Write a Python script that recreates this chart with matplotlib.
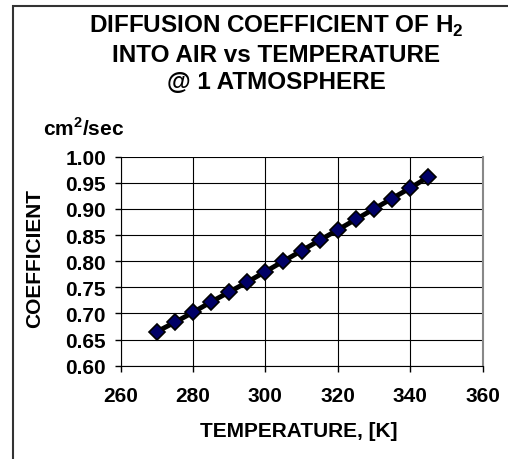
import matplotlib
matplotlib.use("Agg")
from matplotlib import pyplot as plt
from matplotlib.patches import Rectangle

# data
temperature = [270, 275, 280, 285, 290, 295, 300, 305, 310, 315, 320, 325, 330, 335, 340, 345]
coefficient = [0.665, 0.683, 0.702, 0.722, 0.741, 0.760, 0.780, 0.800,
               0.820, 0.840, 0.860, 0.880, 0.900, 0.920, 0.940, 0.961]
x_ticks = [260, 280, 300, 320, 340, 360]
y_ticks = [0.60, 0.65, 0.70, 0.75, 0.80, 0.85, 0.90, 0.95, 1.00]

plt.rcParams["font.family"] = ["Liberation Sans", "DejaVu Sans"]
plt.rcParams["font.weight"] = "bold"
plt.rcParams["mathtext.fontset"] = "custom"
plt.rcParams["mathtext.rm"] = "Liberation Sans:bold"
plt.rcParams["mathtext.bf"] = "Liberation Sans:bold"

W, H = 508, 460
fig = plt.figure(figsize=(W / 100, H / 100), dpi=100)

# outer frame (cut off at right and bottom)
fig.patches.append(Rectangle((13 / W, -0.1), 1.2, 1.1 - 7 / H, transform=fig.transFigure,
                             fill=False, edgecolor="#333333", linewidth=1.5))

left, right, top, bottom = 120.5, 482.5, 157.7, 366.7
ax = fig.add_axes([left / W, 1 - bottom / H, (right - left) / W, (bottom - top) / H])

ax.plot(temperature, coefficient, color="black", linewidth=3.5, zorder=3,
        marker="D", markersize=8, markerfacecolor="#000066", markeredgecolor="black",
        markeredgewidth=1.2)

ax.set_xlim(260, 360)
ax.set_ylim(0.60, 1.00)
ax.set_xticks(x_ticks)
ax.set_yticks(y_ticks)
ax.set_xticklabels([str(t) for t in x_ticks])
ax.set_yticklabels([f"{t:.2f}" for t in y_ticks])
ax.tick_params(axis="both", labelsize=15, direction="out", length=4.5, width=1, pad=6)
ax.tick_params(axis="x", pad=10)
ax.grid(True, color="black", linewidth=0.8)
ax.set_axisbelow(True)
ax.spines["top"].set_visible(False)
ax.spines["right"].set_color("#888888")
ax.spines["right"].set_linewidth(1.5)
for lab in ax.get_xticklabels() + ax.get_yticklabels():
    lab.set_fontweight("bold")

fig.text(276 / W, 1 - 26.5 / H, "DIFFUSION COEFFICIENT OF H$_{2}$", ha="center", va="center",
         fontsize=17.5, fontweight="bold")
fig.text(276 / W, 1 - 55 / H, "INTO AIR vs TEMPERATURE", ha="center", va="center",
         fontsize=17.5, fontweight="bold")
fig.text(276 / W, 1 - 83 / H, "@ 1 ATMOSPHERE", ha="center", va="center",
         fontsize=17.5, fontweight="bold")
fig.text(43 / W, 1 - 129 / H, "cm$^{2}$/sec", ha="left", va="center",
         fontsize=15, fontweight="bold")
fig.text(35 / W, 1 - 258 / H, "COEFFICIENT", ha="center", va="center", rotation=90,
         fontsize=15, fontweight="bold")
fig.text(299 / W, 1 - 432 / H, "TEMPERATURE, [K]", ha="center", va="center",
         fontsize=15, fontweight="bold")

fig.savefig("out.png", dpi=100)
